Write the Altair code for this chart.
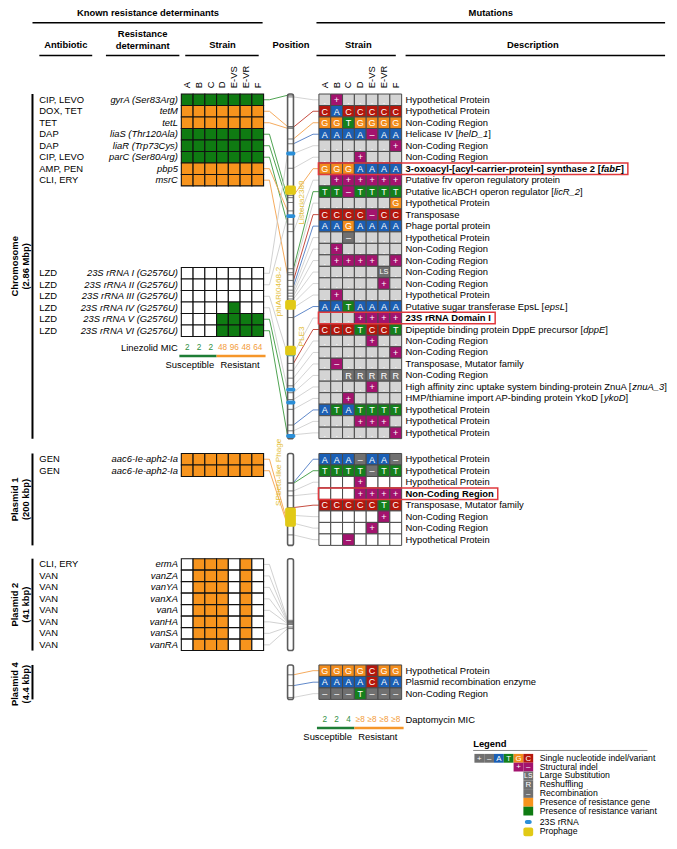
import altair as alt
import pandas as pd

FONT = "Liberation Sans"

# ---------------------------------------------------------------- data
STRAINS = ["A", "B", "C", "D", "E-VS", "E-VR", "F"]

# known resistance determinants  (V = resistance variant, G = resistance gene, - = absent)
CHR_ANTIBIOTIC = ["CIP, LEVO", "DOX, TET", "TET", "DAP", "DAP", "CIP, LEVO", "AMP, PEN", "CLI, ERY"]
CHR_DETERMINANT = ["gyrA (Ser83Arg)", "tetM", "tetL", "liaS (Thr120Ala)", "liaR (Trp73Cys)",
                   "parC (Ser80Arg)", "pbp5", "msrC"]
CHR_PRESENCE = ["VVVVVVV", "GGGGGGG", "GGGGGGG", "VVVVVVV", "VVVVVVV", "VVVVVVV", "GGGGGGG", "GGGGGGG"]
CHR_DET_POS = [0.01, 0.27, 0.285, 0.86, 0.90, 1.08, 0.97, 1.50]          # Mbp

RRNA_ANTIBIOTIC = ["LZD"] * 6
RRNA_DETERMINANT = ["23S rRNA I (G2576U)", "23S rRNA II (G2576U)", "23S rRNA III (G2576U)",
                    "23S rRNA IV (G2576U)", "23S rRNA V (G2576U)", "23S rRNA VI (G2576U)"]
RRNA_PRESENCE = ["-------", "-------", "-------", "----V--", "---VVVV", "---VVVV"]
RRNA_POS = [0.494, 1.013, 2.161, 2.453, 2.560, 2.838]                      # Mbp

P1_ANTIBIOTIC = ["GEN", "GEN"]
P1_DETERMINANT = ["aac6-Ie-aph2-Ia", "aac6-Ie-aph2-Ia"]
P1_PRESENCE = ["GGGGGGG", "GGGGGGG"]
P1_DET_POS = [151.7, 156.0]                                                # kbp

P2_ANTIBIOTIC = ["CLI, ERY", "VAN", "VAN", "VAN", "VAN", "VAN", "VAN", "VAN"]
P2_DETERMINANT = ["ermA", "vanZA", "vanYA", "vanXA", "vanA", "vanHA", "vanSA", "vanRA"]
P2_PRESENCE = ["-GGG-G-"] * 8
P2_DET_POS = [27.5, 28.0, 28.3, 28.6, 29.0, 29.4, 30.5, 31.2]              # kbp

LZD_MIC = ["2", "2", "2", "48", "96", "48", "64"]
DAP_MIC = ["2", "2", "4", "≥8", "≥8", "≥8", "≥8"]
MIC_RESISTANT = [0, 0, 0, 1, 1, 1, 1]

# mutations: "." none, A/C/G/T SNV, "+"/"x" structural indel, "r" deletion/recombination,
# "R" reshuffling, "LS" large substitution ; *...* marks italic gene names
CHR_MUT_DESC = [
    "Hypothetical Protein", "Hypothetical Protein", "Non-Coding Region", "Helicase IV [*helD_1*]",
    "Non-Coding Region", "Non-Coding Region",
    "3-oxoacyl-[acyl-carrier-protein] synthase 2 [*fabF*]",
    "Putative frv operon regulatory protein", "Putative licABCH operon regulator [*licR_2*]",
    "Hypothetical Protein", "Transposase", "Phage portal protein", "Hypothetical Protein",
    "Non-Coding Region", "Non-Coding Region", "Non-Coding Region", "Non-Coding Region",
    "Hypothetical Protein", "Putative sugar transferase EpsL [*epsL*]", "23S rRNA Domain I",
    "Dipeptide binding protein DppE precursor [*dppE*]", "Non-Coding Region", "Non-Coding Region",
    "Transposase, Mutator family", "Non-Coding Region",
    "High affinity zinc uptake system binding-protein ZnuA [*znuA_3*]",
    "HMP/thiamine import AP-binding protein YkoD [*ykoD*]",
    "Hypothetical Protein", "Hypothetical Protein", "Hypothetical Protein",
]
CHR_MUT_CALLS = [
    ". + . . . . .", "C A C C C C C", "G G T G G G G", "A A A A x A A", ". . . . . . +",
    ". . . + . . .", "G G G A A A A", ". + + + + + +", "T T x T T T T", ". . . . . . G",
    "C C C C x C C", "A A G A A A A", ". . r . . . .", ". + . . . . .", ". + + + + . +",
    ". . . . . LS .", ". . . . . + .", ". + . . . . .", "A A T A A A A", ". . . + + + +",
    "C C C T C C T", ". . . . + . .", ". . . . . . +", ". x . . . . .", ". . R R R R R",
    ". . . . + . .", ". . + . . . .", "A T A T T T T", ". . . + + + .", ". . . . . . +",
]
CHR_MUT_BOLD = [0, 0, 0, 0, 0, 0, 1, 0, 0, 0, 0, 0, 0, 0, 0, 0, 0, 0, 0, 1, 0, 0, 0, 0, 0, 0, 0, 0, 0, 0]
CHR_MUT_POS = [0.024, 0.275, 0.373, 0.413, 0.494, 0.616, 0.843, 1.142, 1.450, 1.483, 1.547, 1.596,
               1.628, 1.653, 1.677, 1.701, 1.734, 1.774, 1.855, 2.155, 2.236, 2.293, 2.358, 2.422,
               2.479, 2.536, 2.617, 2.747, 2.795, 2.828]

P1_MUT_DESC = ["Hypothetical Protein", "Hypothetical Protein", "Hypothetical Protein", "Non-Coding Region",
               "Transposase, Mutator family", "Non-Coding Region", "Non-Coding Region", "Hypothetical Protein"]
P1_MUT_CALLS = ["A A A r A A r", "T T T T r T T", ". . . + . . .", ". . . + + + +",
                "C C C C C T C", ". . . . . + .", ". . . . + . .", ". . x . . . ."]
P1_MUT_BOLD = [0, 0, 0, 1, 0, 0, 0, 0]
P1_MUT_POS = [63.5, 65.0, 81.5, 92.0, 117.7, 134.7, 151.7, 177.2]

P4_MUT_DESC = ["Hypothetical Protein", "Plasmid recombination enzyme", "Non-Coding Region"]
P4_MUT_CALLS = ["G G G G C G G", "A A A A C A A", "r r r T r r r"]
P4_MUT_BOLD = [0, 0, 0]
P4_MUT_POS = [1.26, 2.64, 4.15]

PHAGE_NAME = ["Listeria2389", "phiARI0468-2", "PLE3", "SPbeta-like Phage"]
PHAGE_SECTION = ["chr", "chr", "chr", "p1"]
PHAGE_START = [0.760, 1.710, 2.090, 117.7]
PHAGE_END = [0.835, 1.790, 2.170, 159.6]

SECTION_NAME = ["Chromosome", "Plasmid 1", "Plasmid 2", "Plasmid 4"]
SECTION_SIZE = ["(2.86 Mbp)", "(200 kbp)", "(41 kbp)", "(4.4 kbp)"]
SECTION_LEN = [2.86, 200.0, 41.0, 4.4]

LEGEND_LABELS = ["Single nucleotide indel/variant", "Structural indel", "Large Substitution",
                 "Reshuffling", "Recombination", "Presence of resistance gene",
                 "Presence of resistance variant", "23S rRNA", "Prophage"]
LEGEND_TOKENS = [["p", "r", "A", "T", "G", "C"], ["+", "x"], ["LS"], ["R"], ["r"], ["gene"], ["var"],
                 ["rrna"], ["phage"]]

# ---------------------------------------------------------------- style / layout
SNP_COL = {"A": "#1b5fb4", "C": "#b5170d", "G": "#f28c1c", "T": "#14801c"}
MAG, DGRAY, LGRAY = "#a3136e", "#707070", "#d4d4d4"
GENE_COL, VAR_COL = "#f7941d", "#0f7b12"
KNOWN_FILL = {"V": VAR_COL, "G": GENE_COL, "-": "#ffffff"}
LINE_SNP = {"A": "#4f7cc4", "C": "#c0392b", "G": "#f4a24c", "T": "#3c9a40"}
LINE_KNOWN = {"V": "#3c9a40", "G": "#f4a24c", "-": "#cccccc"}
LINE_GRAY = "#cfcfcf"
BAR_STROKE, RRNA_COL, PHAGE_COL, PHAGE_TXT = "#5c5c5c", "#2b8fd8", "#e1c916", "#e4c03a"
RED = "#e0393e"
MIC_TXT = ["#2f8f3f", "#f39c3a"]
MIC_LINE = ["#1e7d36", "#f5962a"]

REF_X0, REF_W, REF_Y0, REF_H = 2, 677, 1, 849
W, H = 661, 829
K = W / (REF_W - REF_X0)
XS = alt.Scale(domain=[REF_X0, REF_W], range=[0, W], nice=False, zero=False)
YS = alt.Scale(domain=[REF_Y0, REF_H], range=[0, H], nice=False, zero=False)
FS = 9.6

ROW_H = 11.75
LEFT_X0, LEFT_CW = 179.0, 12.0
RIGHT_X0, RIGHT_CW = 319.5, 12.07
BAR_X0, BAR_X1 = 287.5, 293.5
DESC_X = 408.0
CHR_TOP, RRNA_TOP, P1_TOP, P2_TOP, P4_TOP = 89.0, 266.5, 456.7, 564.3, 673.0
SECTIONS = {"chr": (CHR_TOP, 30), "p1": (P1_TOP, 8), "p2": (P2_TOP, 8), "p4": (P4_TOP, 3)}
SEC_KEYS = ["chr", "p1", "p2", "p4"]


def _tbl(groups):
    d = {}
    for w, chars in groups:
        for ch in chars:
            d[ch] = w
    return d


REG_W = _tbl([(191, "'"), (222, "ijl"), (278, " ,./:;[]!Ift"), (333, "-()r"), (500, "cksvxyzJ"),
              (556, "0123456789abdeghnopqu_L?"), (584, "+<=>"), (611, "FTZ"), (667, "ABEKPSVXY"),
              (722, "CDHNRUw"), (778, "GOQ"), (833, "Mm"), (944, "W")])
BOLD_W = _tbl([(278, " ,./:;ijlI!"), (333, "-()[]ft"), (389, "r"), (500, "z"),
               (556, "0123456789acekqsvxyJ_?"), (611, "bdghnopquFLTZ"), (667, "EPSVXY"),
               (722, "ABCDHKNRU"), (778, "GOQw"), (833, "M"), (889, "m"), (944, "W")])
BOLD_W["q"] = 611


def tw(s, bold=False):
    t = BOLD_W if bold else REG_W
    return sum(t.get(ch, 556) for ch in s) / 1000.0 * FS


rects, rrects, texts, rules, lines, boxes = [], [], [], [], [], []
_cid = [0]


def T(x, y, t, c="#000000", s=FS, a=0, align="center", weight="normal", style="normal"):
    texts.append(dict(x=x, y=y, t=t, c=c, s=s * K, a=a, align=align, weight=weight, style=style))


def R(x0, x1, y, c="#000000", sw=1.5):
    rules.append(dict(x=x0, x2=x1, y=y, y2=y, c=c, sw=sw))


def pos_y(sec, pos):
    top, n = SECTIONS[sec]
    return top + pos / SECTION_LEN[SEC_KEYS.index(sec)] * n * ROW_H


def connector(pts, color):
    for o, (x, y) in enumerate(pts):
        lines.append(dict(id=_cid[0], o=o, x=x, y=y, c=color))
    _cid[0] += 1


def bar_tick(py):
    R(BAR_X0, BAR_X1, py, c="#555555", sw=0.8)


def known_block(top, sec, antibiotics, dets, presence, positions):
    for r, (ab, det, pres, pos) in enumerate(zip(antibiotics, dets, presence, positions)):
        y0 = top + r * ROW_H
        yc = y0 + ROW_H / 2
        T(34, yc, ab, align="left")
        T(175.5, yc, det, align="right", style="italic")
        for i, ch in enumerate(pres):
            x0 = LEFT_X0 + i * LEFT_CW
            rects.append(dict(x=x0, x2=x0 + LEFT_CW, y=y0, y2=y0 + ROW_H, fill=KNOWN_FILL[ch],
                              stroke="#111111", sw=1.1))
        py = pos_y(sec, pos)
        xr = LEFT_X0 + 7 * LEFT_CW
        connector([(xr, yc), (xr + 6, yc), (BAR_X0, py)], LINE_KNOWN[pres[-1]])
        bar_tick(py)


def cell_style(tok, bg):
    if tok == ".":
        return bg, ("." if bg != "#ffffff" else "")
    if tok in SNP_COL:
        return SNP_COL[tok], tok
    return {"+": (MAG, "+"), "x": (MAG, "–"), "p": (DGRAY, "+"), "r": (DGRAY, "–"),
            "R": (DGRAY, "R"), "LS": (DGRAY, "LS")}[tok]


def mut_block(top, sec, descs, calls, bolds, positions, bg):
    for r, (desc, call, bold, pos) in enumerate(zip(descs, calls, bolds, positions)):
        y0 = top + r * ROW_H
        yc = y0 + ROW_H / 2
        toks = call.split()
        for i, tok in enumerate(toks):
            x0 = RIGHT_X0 + i * RIGHT_CW
            fill, lab = cell_style(tok, bg)
            rects.append(dict(x=x0, x2=x0 + RIGHT_CW, y=y0, y2=y0 + ROW_H, fill=fill,
                              stroke="#4a4a4a", sw=1.0))
            if lab:
                T(x0 + RIGHT_CW / 2, yc + (1.5 if lab == "." else 0.3), lab, c="#ffffff",
                  s=(7.5 if lab == "LS" else 9.2))
        x = DESC_X
        for j, part in enumerate(desc.split("*")):
            if not part:
                continue
            T(x, yc, part, align="left", weight="bold" if bold else "normal",
              style="italic" if j % 2 else "normal")
            x += tw(part, bool(bold))
        if bold:
            boxes.append(dict(x=RIGHT_X0 - 0.5, x2=x + 4, y=y0, y2=y0 + ROW_H))
        py = pos_y(sec, pos)
        col = LINE_SNP.get(toks[0], LINE_GRAY)
        connector([(BAR_X1, py), (RIGHT_X0 - 6, yc), (RIGHT_X0, yc)], col)
        bar_tick(py)


# ---------------------------------------------------------------- headers
T(145, 6, "Known resistance determinants", weight="bold")
T(495, 6, "Mutations", weight="bold")
R(27, 262, 16)
R(317, 673, 16)
T(61, 39, "Antibiotic", weight="bold")
T(139.5, 28, "Resistance", weight="bold")
T(139.5, 40, "determinant", weight="bold")
T(LEFT_X0 + 3.5 * LEFT_CW, 39, "Strain", weight="bold")
T(291, 39, "Position", weight="bold")
T(RIGHT_X0 + 3.5 * RIGHT_CW - 2, 39, "Strain", weight="bold")
T(538, 39, "Description", weight="bold")
for a, b in [(34, 88), (102, 177), (183, 258), (317, 398), (408, 673)]:
    R(a, b, 49.5)
for i, s in enumerate(STRAINS):
    T(LEFT_X0 + (i + 0.5) * LEFT_CW, 83, s, a=270, align="left", s=9.6)
    T(RIGHT_X0 + (i + 0.5) * RIGHT_CW, 83, s, a=270, align="left", s=9.6)

# ---------------------------------------------------------------- section frames
for k, sec in enumerate(SEC_KEYS):
    top, n = SECTIONS[sec]
    bot = top + n * ROW_H
    rules.append(dict(x=27, x2=27, y=top, y2=bot, c="#000000", sw=2.0))
    yc = (top + bot) / 2 + (2 if sec == "p4" else 0)
    T(8.8, yc, SECTION_NAME[k], a=270, weight="bold")
    T(20.8, yc, SECTION_SIZE[k], a=270, weight="bold")
    rrects.append(dict(x=BAR_X0, x2=BAR_X1, y=top, y2=bot, fill="#ffffff", stroke=BAR_STROKE, sw=1.6))

# ---------------------------------------------------------------- tables
known_block(CHR_TOP, "chr", CHR_ANTIBIOTIC, CHR_DETERMINANT, CHR_PRESENCE, CHR_DET_POS)
known_block(RRNA_TOP, "chr", RRNA_ANTIBIOTIC, RRNA_DETERMINANT, RRNA_PRESENCE, RRNA_POS)
known_block(P1_TOP, "p1", P1_ANTIBIOTIC, P1_DETERMINANT, P1_PRESENCE, P1_DET_POS)
known_block(P2_TOP, "p2", P2_ANTIBIOTIC, P2_DETERMINANT, P2_PRESENCE, P2_DET_POS)
mut_block(CHR_TOP, "chr", CHR_MUT_DESC, CHR_MUT_CALLS, CHR_MUT_BOLD, CHR_MUT_POS, LGRAY)
mut_block(P1_TOP, "p1", P1_MUT_DESC, P1_MUT_CALLS, P1_MUT_BOLD, P1_MUT_POS, "#ffffff")
mut_block(P4_TOP, "p4", P4_MUT_DESC, P4_MUT_CALLS, P4_MUT_BOLD, P4_MUT_POS, "#ffffff")

# 23S rRNA markers and prophages on the position bar
marks = []
for pos in RRNA_POS:
    py = pos_y("chr", pos)
    marks.append(dict(x=286.0, x2=295.5, y=py - 2, y2=py + 2, fill=RRNA_COL, stroke=RRNA_COL, sw=0))
PHAGE_LABEL_X = [302, 279, 302, 279]
PHAGE_LABEL_Y = [200, 291, 337, 476]
for name, sec, a, b, lx, ly in zip(PHAGE_NAME, PHAGE_SECTION, PHAGE_START, PHAGE_END,
                                   PHAGE_LABEL_X, PHAGE_LABEL_Y):
    marks.append(dict(x=285.0, x2=296.0, y=pos_y(sec, a), y2=pos_y(sec, b), fill=PHAGE_COL,
                      stroke=PHAGE_COL, sw=0))
    T(lx, ly, name, c=PHAGE_TXT, a=270, s=8.3)

# ---------------------------------------------------------------- MIC rows
def mic_block(x0, cw, vals, label, y, label_right):
    for i, (v, r) in enumerate(zip(vals, MIC_RESISTANT)):
        T(x0 + (i + 0.5) * cw, y, v, c=MIC_TXT[r], s=8.4)
    if label_right:
        T(x0 - 3.5, y, label, align="right")
    else:
        T(DESC_X, y, label, align="left")
    split = x0 + MIC_RESISTANT.count(0) * cw
    R(x0 - 2, split, y + 8.5, c=MIC_LINE[0], sw=2.5)
    R(split, x0 + 7 * cw + 2, y + 8.5, c=MIC_LINE[1], sw=2.5)
    T(split - 2.5, y + 17.5, "Susceptible", align="right")
    T(split + 4, y + 17.5, "Resistant", align="left")


mic_block(LEFT_X0, LEFT_CW, LZD_MIC, "Linezolid MIC", 348.5, True)
mic_block(RIGHT_X0, RIGHT_CW, DAP_MIC, "Daptomycin MIC", 729, False)

# ---------------------------------------------------------------- legend
LEG_X_RIGHT, LEG_CW, LEG_CH = 538.3, 10.0, 9.0
LEG_ROW_Y = [768.5 + 9 * i for i in range(7)] + [833.7, 843.7]
T(477, 754, "Legend", align="left", weight="bold")
R(477, 655, 760.5, c="#8a8a8a", sw=1.0)
for label, toks, yc in zip(LEGEND_LABELS, LEGEND_TOKENS, LEG_ROW_Y):
    T(545, yc - 0.5, label, align="left", s=8.9)
    n = len(toks)
    for i, tok in enumerate(toks):
        x0 = LEG_X_RIGHT - (n - i) * LEG_CW
        if tok == "rrna":
            marks.append(dict(x=x0 + 1.5, x2=x0 + 8.5, y=yc - 2, y2=yc + 2, fill=RRNA_COL,
                              stroke=RRNA_COL, sw=0))
        elif tok == "phage":
            marks.append(dict(x=x0, x2=x0 + LEG_CW, y=yc - 4.5, y2=yc + 4.5, fill=PHAGE_COL,
                              stroke=PHAGE_COL, sw=0))
        elif tok in ("gene", "var"):
            col = GENE_COL if tok == "gene" else VAR_COL
            rects.append(dict(x=x0, x2=x0 + LEG_CW, y=yc - 4.5, y2=yc + 4.5, fill=col, stroke=col, sw=0))
        else:
            fill, lab = cell_style(tok, LGRAY)
            rects.append(dict(x=x0, x2=x0 + LEG_CW, y=yc - 4.5, y2=yc + 4.5, fill=fill, stroke=fill, sw=0))
            T(x0 + LEG_CW / 2, yc + 0.3, lab, c="#ffffff", s=(7.0 if lab == "LS" else 8.0))

# ---------------------------------------------------------------- build chart
X = lambda f="x:Q": alt.X(f, scale=XS, axis=None)
Y = lambda f="y:Q": alt.Y(f, scale=YS, axis=None)


def rect_layer(recs, radius=0):
    return alt.Chart(pd.DataFrame(recs)).mark_rect(cornerRadius=radius).encode(
        x=X(), x2="x2:Q", y=Y(), y2="y2:Q",
        fill=alt.Fill("fill:N", scale=None), stroke=alt.Stroke("stroke:N", scale=None),
        strokeWidth=alt.StrokeWidth("sw:Q", scale=None))


layers = []
layers.append(alt.Chart(pd.DataFrame(lines)).mark_line(strokeWidth=0.9).encode(
    x=X(), y=Y(), detail="id:N", order="o:Q", color=alt.Color("c:N", scale=None)))
layers.append(rect_layer(rrects, 2))
layers.append(alt.Chart(pd.DataFrame(rules)).mark_rule().encode(
    x=X(), x2="x2:Q", y=Y(), y2="y2:Q", color=alt.Color("c:N", scale=None),
    strokeWidth=alt.StrokeWidth("sw:Q", scale=None)))
layers.append(rect_layer(marks, 2))
layers.append(rect_layer(rects, 0))
layers.append(alt.Chart(pd.DataFrame(boxes)).mark_rect(fillOpacity=0, stroke=RED, strokeWidth=1.5).encode(
    x=X(), x2="x2:Q", y=Y(), y2="y2:Q"))

tdf = pd.DataFrame(texts)
for (al, wt, st), g in tdf.groupby(["align", "weight", "style"]):
    layers.append(alt.Chart(g[["x", "y", "t", "c", "s", "a"]].reset_index(drop=True)).mark_text(
        align=al, baseline="middle", font=FONT, fontWeight=wt, fontStyle=st).encode(
        x=X(), y=Y(), text="t:N", color=alt.Color("c:N", scale=None),
        size=alt.Size("s:Q", scale=None), angle=alt.Angle("a:Q", scale=None)))

chart = alt.layer(*layers).properties(
    width=W, height=H, padding=0, autosize=alt.AutoSizeParams(type="none")
).configure_view(stroke=None)

chart.save("out.html", embed_options={"renderer": "svg", "actions": False})
